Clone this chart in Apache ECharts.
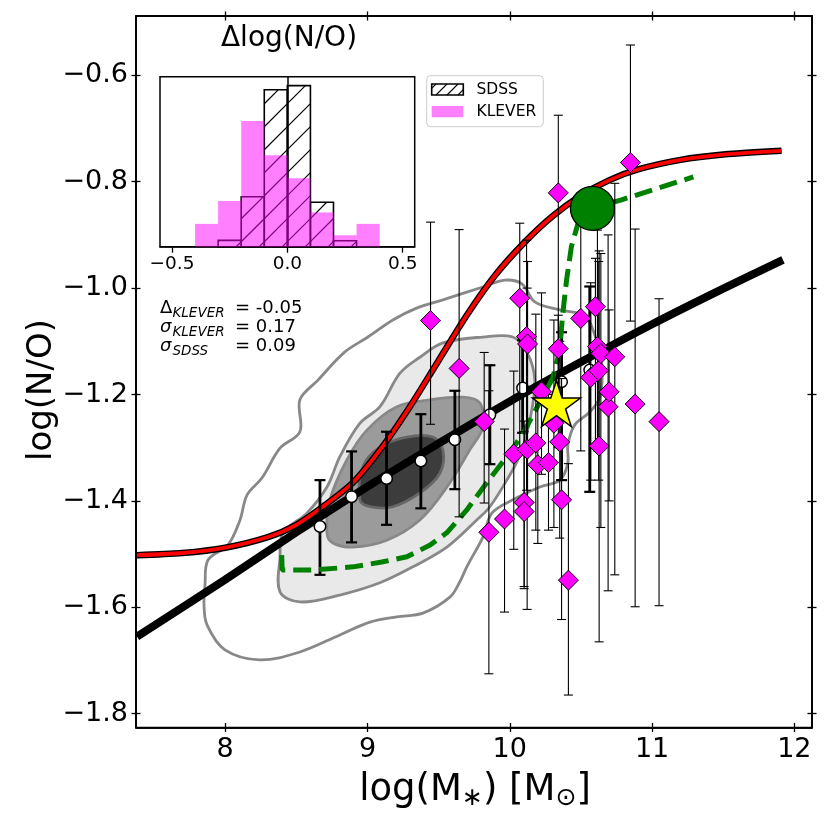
<!DOCTYPE html>
<html><head><meta charset="utf-8">
<script src="https://cdn.jsdelivr.net/npm/echarts@6/dist/echarts.min.js"></script>
<style>html,body{margin:0;padding:0;background:#fff}#c{width:830px;height:828px}</style>
</head><body><div id="c"></div>
<script>
// ---------------- data ----------------
const xTicks = [8, 9, 10, 11, 12];
const yTicks = [-1.8, -1.6, -1.4, -1.2, -1.0, -0.8, -0.6];
const insetTicks = [-0.5, 0.0, 0.5];

const histEdges = [-0.4, -0.3, -0.2, -0.1, 0.0, 0.1, 0.2, 0.3, 0.4];
const sdssHist = [0, 0.15, 1.18, 3.71, 3.81, 1.05, 0.14, 0];
const kleverHist = [0.54, 1.08, 2.97, 2.16, 1.62, 0.81, 0.27, 0.54];

const redX = [7.38, 7.7, 8.0, 8.3, 8.5, 8.7, 8.9, 9.1, 9.3, 9.5, 9.7, 9.9, 10.1, 10.3, 10.5, 10.7, 10.9, 11.2, 11.5, 11.91];
const redY = [-1.502, -1.498, -1.488, -1.468, -1.445, -1.408, -1.365, -1.300, -1.222, -1.136, -1.050, -0.975, -0.915, -0.865, -0.826, -0.797, -0.777, -0.759, -0.749, -0.742];

const fitX = [7.38, 8.0, 8.5, 9.0, 9.5, 10.0, 10.5, 11.0, 11.5, 11.92];
const fitY = [-1.655, -1.548, -1.459, -1.373, -1.292, -1.213, -1.139, -1.068, -1.001, -0.947];

const greenX = [8.397, 8.400, 8.62, 8.898, 9.10, 9.277, 9.44, 9.557, 9.698, 9.838, 9.979, 10.09, 10.16, 10.23, 10.30, 10.35, 10.37, 10.399, 10.433, 10.48, 10.581, 10.785, 11.01, 11.29];
const greenY = [-1.502, -1.530, -1.530, -1.524, -1.515, -1.505, -1.483, -1.460, -1.417, -1.366, -1.317, -1.275, -1.240, -1.205, -1.170, -1.120, -1.054, -0.985, -0.922, -0.878, -0.850, -0.834, -0.815, -0.791];

const medX  = [8.666, 8.888, 9.134, 9.375, 9.614, 9.860, 10.090, 10.364, 10.562];
const medY  = [-1.448, -1.392, -1.358, -1.325, -1.285, -1.238, -1.188, -1.176, -1.154];
const medLo = [-1.539, -1.478, -1.445, -1.414, -1.378, -1.331, -1.272, -1.361, -1.383];
const medHi = [-1.361, -1.307, -1.270, -1.237, -1.193, -1.145, -1.098, -1.083, -0.997];

const kX  = [9.443, 9.644, 9.820, 9.853, 9.963, 10.028, 10.070, 10.118, 10.125, 10.101, 10.101, 10.122, 10.183, 10.197, 10.272, 10.223, 10.310, 10.341, 10.341, 10.351, 10.364, 10.412, 10.499, 10.569, 10.602, 10.616, 10.625, 10.628, 10.640, 10.691, 10.698, 10.738, 10.848, 10.881, 11.049];
const kY  = [-1.061, -1.151, -1.251, -1.459, -1.434, -1.312, -1.019, -1.091, -1.105, -1.403, -1.420, -1.303, -1.291, -1.332, -1.328, -1.195, -1.254, -0.821, -1.114, -1.289, -1.398, -1.549, -1.057, -1.168, -1.035, -1.110, -1.155, -1.297, -1.123, -1.223, -1.195, -1.129, -0.764, -1.218, -1.251];
const kLo = [-1.256, -1.430, -1.404, -1.725, -1.609, -1.491, -1.300, -1.380, -1.400, -1.561, -1.565, -1.604, -1.455, -1.480, -1.455, -1.350, -1.450, -1.200, -1.300, -1.470, -1.623, -1.765, -1.306, -1.361, -1.300, -1.306, -1.361, -1.665, -1.450, -1.569, -1.400, -1.539, -1.062, -1.599, -1.597];
const kHi = [-0.876, -0.890, -1.121, -1.193, -1.265, -1.156, -0.878, -0.910, -0.950, -1.250, -1.270, -1.000, -1.049, -1.180, -1.200, -1.009, -1.060, -0.675, -1.051, -1.100, -1.170, -1.330, -0.870, -0.990, -0.944, -0.891, -0.950, -0.930, -0.935, -0.900, -1.041, -0.803, -0.543, -0.889, -1.020];

const bigCircle = [10.581, -0.850];
const starPt = [10.328, -1.217];

// SDSS density contours (outer to inner), data coordinates
const c0X = [7.858, 7.879, 8.019, 8.104, 8.153, 8.258, 8.385, 8.525, 8.525, 8.652, 8.841, 9.003, 9.178, 9.333, 9.530, 9.811, 9.965, 10.085, 10.176, 10.352, 10.527, 10.597, 10.647, 10.633, 10.562, 10.457, 10.408, 10.408, 10.352, 10.211, 10.021, 9.874, 9.811, 9.698, 9.649, 9.579, 9.389, 9.206, 9.017, 8.806, 8.525, 8.244, 7.998, 7.872, 7.851];
const c0Y = [-1.558, -1.511, -1.483, -1.436, -1.389, -1.357, -1.301, -1.270, -1.210, -1.173, -1.120, -1.092, -1.060, -1.039, -1.022, -0.998, -0.985, -0.992, -1.026, -1.041, -1.052, -1.088, -1.145, -1.205, -1.233, -1.257, -1.295, -1.329, -1.361, -1.374, -1.398, -1.423, -1.468, -1.524, -1.552, -1.581, -1.611, -1.618, -1.628, -1.652, -1.684, -1.699, -1.680, -1.633, -1.596];
const c1X = [8.385, 8.406, 8.574, 8.715, 8.806, 8.947, 9.087, 9.228, 9.368, 9.530, 9.811, 10.021, 10.120, 10.176, 10.141, 10.071, 9.979, 9.860, 9.768, 9.558, 9.319, 9.087, 8.806, 8.525, 8.385];
const c1Y = [-1.506, -1.460, -1.423, -1.374, -1.317, -1.254, -1.223, -1.160, -1.130, -1.103, -1.092, -1.092, -1.120, -1.173, -1.248, -1.314, -1.361, -1.411, -1.436, -1.487, -1.524, -1.554, -1.577, -1.590, -1.571];
const c2X = [8.715, 8.736, 8.855, 8.996, 9.206, 9.438, 9.670, 9.790, 9.811, 9.719, 9.558, 9.368, 9.136, 8.897, 8.757];
const c2Y = [-1.460, -1.398, -1.323, -1.267, -1.223, -1.210, -1.205, -1.216, -1.261, -1.304, -1.374, -1.436, -1.474, -1.487, -1.479];
const c3X = [8.947, 8.968, 9.087, 9.277, 9.459, 9.530, 9.509, 9.368, 9.178, 9.017];
const c3Y = [-1.398, -1.336, -1.299, -1.280, -1.280, -1.304, -1.348, -1.385, -1.411, -1.411];

// ---------------- chart ----------------
const FONT = 'DejaVu Sans';
const X_MIN = 7.373, X_MAX = 12.124, Y_MIN = -1.826, Y_MAX = -0.4885;
const minus = v => (v < 0 ? '\u2212' : '') + Math.abs(v).toFixed(1);

const contours = [
  {x: c0X, y: c0Y, fill: 'rgba(0,0,0,0)', stroke: '#888888'},
  {x: c1X, y: c1Y, fill: '#e9e9e9', stroke: '#888888'},
  {x: c2X, y: c2Y, fill: '#9b9b9b', stroke: '#888888'},
  {x: c3X, y: c3Y, fill: '#3c3c3c', stroke: '#666666'}
];

function tickAxisX(pos, inside, labels) {
  return {
    gridIndex: 0, type: 'value', min: X_MIN, max: X_MAX, position: pos,
    axisLine: {show: true, lineStyle: {color: '#000', width: 1.5}},
    splitLine: {show: false},
    axisTick: {show: true, inside: inside, length: 4.5, customValues: xTicks, lineStyle: {color: '#000', width: 1.3}},
    axisLabel: {show: labels, customValues: xTicks, fontFamily: FONT, fontSize: 27, color: '#000', margin: 9,
      formatter: v => String(Math.round(v))}
  };
}
function tickAxisY(pos, inside, labels) {
  return {
    gridIndex: 0, type: 'value', min: Y_MIN, max: Y_MAX, position: pos,
    axisLine: {show: true, lineStyle: {color: '#000', width: 1.5}},
    splitLine: {show: false},
    axisTick: {show: true, inside: inside, length: 4.5, customValues: yTicks, lineStyle: {color: '#000', width: 1.3}},
    axisLabel: {show: labels, customValues: yTicks, fontFamily: FONT, fontSize: 27, color: '#000', margin: 8,
      formatter: minus}
  };
}

function errRender(capHalf, lw, capLw) {
  return function (params, api) {
    const x = api.value(0), lo = api.value(1), hi = api.value(2);
    const a = api.coord([x, lo]), b = api.coord([x, hi]);
    const st = {stroke: '#000', lineWidth: lw};
    const cs = {stroke: '#000', lineWidth: capLw};
    return {type: 'group', children: [
      {type: 'line', shape: {x1: a[0], y1: a[1], x2: b[0], y2: b[1]}, style: st},
      {type: 'line', shape: {x1: a[0] - capHalf, y1: a[1], x2: a[0] + capHalf, y2: a[1]}, style: cs},
      {type: 'line', shape: {x1: b[0] - capHalf, y1: b[1], x2: b[0] + capHalf, y2: b[1]}, style: cs}
    ]};
  };
}

const HATCH = 23;
function hatchLines(x0, y0, x1, y1) {
  const out = [];
  for (let s = Math.ceil((x0 + y0) / HATCH) * HATCH; s <= x1 + y1; s += HATCH) {
    const xa = Math.max(x0, s - y1), xb = Math.min(x1, s - y0);
    if (xb > xa + 0.3) out.push({type: 'line', shape: {x1: xa, y1: s - xa, x2: xb, y2: s - xb},
      style: {stroke: '#000', lineWidth: 1.2}});
  }
  return out;
}

const sdssBins = sdssHist.map((h, i) => [histEdges[i], histEdges[i + 1], h]);
const kleverBins = kleverHist.map((h, i) => [histEdges[i], histEdges[i + 1], h]);

const T = (x, y, text, font, extra) => Object.assign({type: 'text', x: x, y: y, z: 50,
  style: {text: text, font: font, fill: '#000', verticalAlign: 'middle'}}, extra || {});

const option = {
  animation: false,
  backgroundColor: '#fff',
  textStyle: {fontFamily: FONT},
  grid: [
    {left: 136, top: 16, width: 676, height: 711.5, show: true, borderColor: '#000', borderWidth: 1.5, backgroundColor: 'rgba(0,0,0,0)'},
    {left: 160, top: 76.7, width: 254.7, height: 170, show: true, borderColor: '#000', borderWidth: 1.5, backgroundColor: '#fff'}
  ],
  xAxis: [
    tickAxisX('bottom', false, true), tickAxisX('bottom', true, false),
    tickAxisX('top', false, false), tickAxisX('top', true, false),
    {gridIndex: 1, type: 'value', min: -0.552, max: 0.552, position: 'bottom',
      axisLine: {show: true, lineStyle: {color: '#000', width: 1.5}}, splitLine: {show: false},
      axisTick: {show: true, length: 6, customValues: insetTicks, lineStyle: {color: '#000', width: 1.3}},
      axisLabel: {customValues: insetTicks, fontFamily: FONT, fontSize: 18.5, color: '#000', margin: 8, formatter: minus}}
  ],
  yAxis: [
    tickAxisY('left', false, true), tickAxisY('left', true, false),
    tickAxisY('right', false, false), tickAxisY('right', true, false),
    {gridIndex: 1, type: 'value', min: 0, max: 4.02, axisLine: {show: true, lineStyle: {color: '#000', width: 1.5}},
      axisTick: {show: false}, axisLabel: {show: false}, splitLine: {show: false}}
  ],
  series: [
    {type: 'custom', name: 'contours', xAxisIndex: 0, yAxisIndex: 0, z: 1, clip: true,
      data: contours.map((c, i) => [9, -1.3, i]),
      renderItem: function (params, api) {
        const c = contours[api.value(2)];
        const pts = c.x.map((x, j) => api.coord([x, c.y[j]]));
        return {type: 'polygon', shape: {points: pts, smooth: 0.35},
          style: {fill: c.fill, stroke: c.stroke, lineWidth: 2.8}};
      }},
    {type: 'line', name: 'redEdge', xAxisIndex: 0, yAxisIndex: 0, z: 2, showSymbol: false, smooth: 0.3,
      data: redX.map((x, i) => [x, redY[i]]), lineStyle: {color: '#000', width: 6.5}},
    {type: 'line', name: 'red', xAxisIndex: 0, yAxisIndex: 0, z: 2, showSymbol: false, smooth: 0.3,
      data: redX.map((x, i) => [x, redY[i]]), lineStyle: {color: '#ff0000', width: 3.8}},
    {type: 'line', name: 'fit', xAxisIndex: 0, yAxisIndex: 0, z: 3, showSymbol: false, smooth: 0.3,
      data: fitX.map((x, i) => [x, fitY[i]]), lineStyle: {color: '#000', width: 8}},
    {type: 'custom', name: 'medErr', xAxisIndex: 0, yAxisIndex: 0, z: 4,
      data: medX.map((x, i) => [x, medLo[i], medHi[i]]), encode: {x: 0, y: [1, 2]},
      renderItem: errRender(5.5, 2.8, 2.2)},
    {type: 'scatter', name: 'med', xAxisIndex: 0, yAxisIndex: 0, z: 5, symbol: 'circle', symbolSize: 11.5,
      data: medX.map((x, i) => [x, medY[i]]),
      itemStyle: {color: '#fff', borderColor: '#000', borderWidth: 1.5, opacity: 1}},
    {type: 'line', name: 'green', xAxisIndex: 0, yAxisIndex: 0, z: 6, showSymbol: false,
      data: greenX.map((x, i) => [x, greenY[i]]), lineStyle: {color: '#008000', width: 5, type: [18, 8]}},
    {type: 'custom', name: 'kErr', xAxisIndex: 0, yAxisIndex: 0, z: 7,
      data: kX.map((x, i) => [x, kLo[i], kHi[i]]), encode: {x: 0, y: [1, 2]},
      renderItem: errRender(4.5, 1.1, 1.1)},
    {type: 'scatter', name: 'KLEVER', xAxisIndex: 0, yAxisIndex: 0, z: 8, symbol: 'diamond', symbolSize: 20,
      data: kX.map((x, i) => [x, kY[i]]),
      itemStyle: {color: '#ff00ff', borderColor: '#000', borderWidth: 1, opacity: 1}},
    {type: 'scatter', name: 'circle', xAxisIndex: 0, yAxisIndex: 0, z: 9, symbol: 'circle', symbolSize: 44,
      data: [bigCircle], itemStyle: {color: '#008000', borderColor: '#000', borderWidth: 1.3, opacity: 1}},
    {type: 'scatter', name: 'star', xAxisIndex: 0, yAxisIndex: 0, z: 10,
      symbol: 'path://M50 0 L61.23 34.55 L97.55 34.55 L68.16 55.9 L79.39 90.45 L50 69.1 L20.61 90.45 L31.84 55.9 L2.45 34.55 L38.77 34.55 Z',
      symbolSize: [48, 46], data: [starPt],
      itemStyle: {color: '#ffff00', borderColor: '#000', borderWidth: 1.5, opacity: 1}},
    // inset histograms
    {type: 'custom', name: 'SDSS', xAxisIndex: 4, yAxisIndex: 4, z: 20,
      data: sdssBins, encode: {x: [0, 1], y: 2},
      renderItem: function (params, api) {
        const h = api.value(2);
        if (h <= 0) return null;
        const p0 = api.coord([api.value(0), h]), p1 = api.coord([api.value(1), 0]);
        return {type: 'group', children: [
          {type: 'rect', shape: {x: p0[0], y: p0[1], width: p1[0] - p0[0], height: p1[1] - p0[1]},
            style: {fill: 'rgba(0,0,0,0)', stroke: '#000', lineWidth: 1.6}}
        ].concat(hatchLines(p0[0], p0[1], p1[0], p1[1]))};
      }},
    {type: 'custom', name: 'KLEVERhist', xAxisIndex: 4, yAxisIndex: 4, z: 21,
      data: kleverBins, encode: {x: [0, 1], y: 2},
      renderItem: function (params, api) {
        const h = api.value(2);
        const p0 = api.coord([api.value(0), h]), p1 = api.coord([api.value(1), 0]);
        return {type: 'rect', shape: {x: p0[0], y: p0[1], width: p1[0] - p0[0], height: p1[1] - p0[1]},
          style: {fill: 'rgba(255,0,255,0.5)'}};
      }}
  ],
  graphic: [
    // axis titles
    {type: 'text', x: 42, y: 390, rotation: Math.PI / 2, z: 50,
      style: {text: 'log(N/O)', font: '34px "DejaVu Sans"', fill: '#000', align: 'center', verticalAlign: 'middle'}},
    {type: 'text', x: 475, y: 790, z: 50,
      style: {text: '{n|log(M}{s|\u2217}{n|) [M}{s|\u2299}{n|]}', align: 'center', verticalAlign: 'middle',
        rich: {n: {fontFamily: FONT, fontSize: 37, color: '#000'},
               s: {fontFamily: FONT, fontSize: 25, color: '#000', padding: [16, 0, 0, 0]}}}},
    // inset title
    {type: 'text', x: 289, y: 39, z: 50,
      style: {text: '\u0394log(N/O)', font: '28px "DejaVu Sans"', fill: '#000', align: 'center', verticalAlign: 'middle'}},
    // stats
    T(160, 308, '\u0394', '18px "DejaVu Sans"'),
    T(172.5, 313, 'KLEVER', 'italic 13.5px "DejaVu Sans"'),
    T(235, 308, '= -0.05', '18px "DejaVu Sans"'),
    T(160, 327, '\u03c3', 'italic 18px "DejaVu Sans"'),
    T(172.5, 332, 'KLEVER', 'italic 13.5px "DejaVu Sans"'),
    T(235, 327, '= 0.17', '18px "DejaVu Sans"'),
    T(160, 346, '\u03c3', 'italic 18px "DejaVu Sans"'),
    T(172.5, 351, 'SDSS', 'italic 13.5px "DejaVu Sans"'),
    T(235, 346, '= 0.09', '18px "DejaVu Sans"'),
    // legend
    {type: 'rect', z: 40, shape: {x: 426.7, y: 75.7, width: 116.6, height: 51, r: 4},
      style: {fill: 'rgba(255,255,255,0.8)', stroke: '#cccccc', lineWidth: 1}},
    {type: 'rect', z: 41, shape: {x: 431.7, y: 84, width: 31.6, height: 11},
      style: {fill: '#fff', stroke: '#000', lineWidth: 1.6}},
    {type: 'line', z: 42, shape: {x1: 436, y1: 95, x2: 447, y2: 84}, style: {stroke: '#000', lineWidth: 1.1}},
    {type: 'line', z: 42, shape: {x1: 447, y1: 95, x2: 458, y2: 84}, style: {stroke: '#000', lineWidth: 1.1}},
    {type: 'line', z: 42, shape: {x1: 458, y1: 95, x2: 463.3, y2: 89.7}, style: {stroke: '#000', lineWidth: 1.1}},
    {type: 'line', z: 42, shape: {x1: 431.7, y1: 88.3, x2: 436, y2: 84}, style: {stroke: '#000', lineWidth: 1.1}},
    {type: 'rect', z: 41, shape: {x: 431.7, y: 106, width: 31.6, height: 11.3},
      style: {fill: 'rgba(255,0,255,0.5)'}},
    T(476.5, 89.5, 'SDSS', '15.5px "DejaVu Sans"', {z: 42}),
    T(476.5, 111.7, 'KLEVER', '15.5px "DejaVu Sans"', {z: 42})
  ]
};

const chart = echarts.init(document.getElementById('c'), null, {renderer: 'canvas'});
chart.setOption(option);
</script></body></html>
